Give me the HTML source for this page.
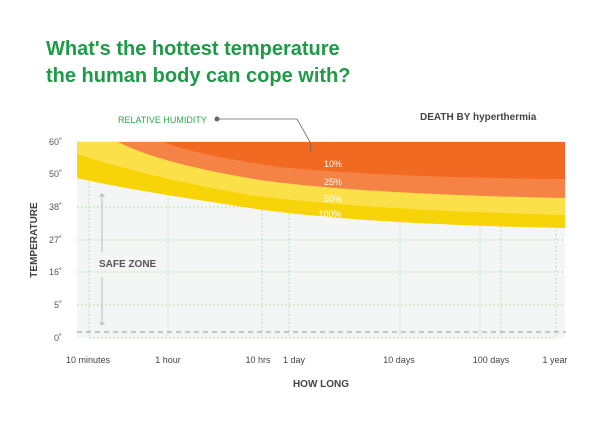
<!DOCTYPE html>
<html><head><meta charset="utf-8"><style>
body{margin:0;background:#fff;width:600px;height:425px;overflow:hidden;font-family:"Liberation Sans",sans-serif}
</style></head><body>
<svg width="600" height="425" xmlns="http://www.w3.org/2000/svg" font-family="Liberation Sans, sans-serif">
<text x="46" y="55" font-size="20" font-weight="bold" fill="#1f9a48">What's the hottest temperature</text>
<text x="46" y="82" font-size="20" font-weight="bold" fill="#1f9a48">the human body can cope with?</text>
<rect x="77" y="142" width="488" height="196" fill="#f4f6f5"/>
<g stroke="#a8dc8c" stroke-width="1" stroke-dasharray="1.5,2.5" fill="none">
<line x1="77" y1="142" x2="565" y2="142"/><line x1="77" y1="174" x2="565" y2="174"/>
<line x1="77" y1="207" x2="565" y2="207"/><line x1="77" y1="240" x2="565" y2="240"/>
<line x1="77" y1="272" x2="565" y2="272"/><line x1="77" y1="305" x2="565" y2="305"/>
<line x1="89" y1="338" x2="556" y2="338"/>
<line x1="89" y1="142" x2="89" y2="338"/><line x1="168" y1="142" x2="168" y2="338"/>
<line x1="262" y1="142" x2="262" y2="338"/><line x1="289" y1="142" x2="289" y2="338"/>
<line x1="400" y1="142" x2="400" y2="338"/><line x1="480" y1="142" x2="480" y2="338"/>
<line x1="501" y1="142" x2="501" y2="338"/><line x1="556" y1="142" x2="556" y2="338"/>
</g>
<line x1="77" y1="332" x2="566" y2="332" stroke="#999" stroke-dasharray="5,4"/>
<path d="M77,142 L565,142 L565,228 C450,226 330,220 250,208 C180,197 120,188 77,178 Z" fill="#f7d408"/>
<path d="M77,142 L565,142 L565,215 C450,212 330,206 250,195 C180,183 120,168 77,154 Z" fill="#fce04a"/>
<path d="M118,142 L565,142 L565,198 C450,196 330,190 260,180 C200,170 150,158 118,142 Z" fill="#f58346"/>
<path d="M163,142 L565,142 L565,179 C450,178 350,174 280,167 C230,160 190,152 163,142 Z" fill="#f26922"/>
<g fill="#fff" font-size="9" text-anchor="middle">
<text x="333" y="167">10%</text><text x="333" y="185">25%</text>
<text x="333" y="202">50%</text><text x="330" y="217">100%</text></g>
<polyline points="218,119 297,119 310,142 311,152" fill="none" stroke="#666" stroke-width="0.8"/>
<circle cx="217" cy="119" r="2.5" fill="#666"/>
<text x="118" y="123" font-size="9" fill="#2aa84a">RELATIVE HUMIDITY</text>
<text x="420" y="120" font-size="10" font-weight="bold" fill="#444">DEATH BY hyperthermia</text>
<g font-size="9" fill="#555" text-anchor="end">
<text x="62" y="145">60˚</text><text x="62" y="177">50˚</text><text x="62" y="210">38˚</text>
<text x="62" y="243">27˚</text><text x="62" y="275">16˚</text><text x="62" y="308">5˚</text><text x="62" y="341">0˚</text></g>
<text transform="translate(37,240) rotate(-90)" font-size="10" font-weight="bold" fill="#444" text-anchor="middle">TEMPERATURE</text>
<g stroke="#aaa" stroke-width="0.8" fill="none">
<line x1="102" y1="194" x2="102" y2="252"/><polyline points="99.5,197 102,194 104.5,197"/>
<line x1="102" y1="277" x2="102" y2="325"/><polyline points="99.5,322 102,325 104.5,322"/></g>
<text x="99" y="267" font-size="10" font-weight="bold" fill="#555">SAFE ZONE</text>
<g font-size="9" fill="#444" text-anchor="middle">
<text x="88" y="363">10 minutes</text><text x="168" y="363">1 hour</text><text x="258" y="363">10 hrs</text>
<text x="294" y="363">1 day</text><text x="399" y="363">10 days</text><text x="491" y="363">100 days</text><text x="555" y="363">1 year</text></g>
<text x="321" y="387" font-size="10" font-weight="bold" fill="#444" text-anchor="middle">HOW LONG</text>
</svg>
</body></html>
